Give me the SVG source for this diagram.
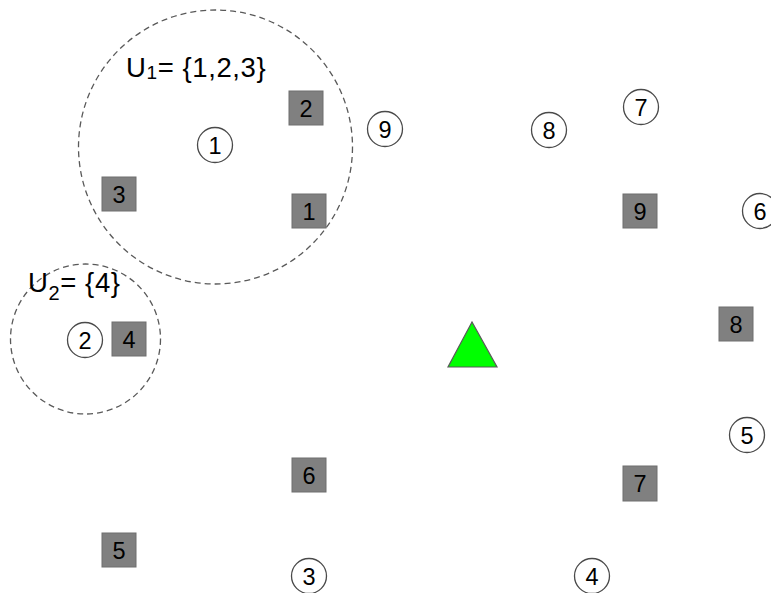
<svg xmlns="http://www.w3.org/2000/svg" width="771" height="593" viewBox="0 0 771 593">
<style>
.bg{fill:#ffffff}
.grp{fill:none;stroke:#595959;stroke-width:1.3;stroke-dasharray:6 4}
.sq{fill:#808080;stroke:#6e6e6e;stroke-width:1}
.ci{fill:#ffffff;stroke:#4a4a4a;stroke-width:1.3}
.t{font-family:"Liberation Sans",Arial,sans-serif;font-size:23.5px;fill:#000;text-anchor:middle}
.lbl{font-family:"Liberation Sans",Arial,sans-serif;font-size:27.5px;fill:#000}
.tri{fill:#00ff00;stroke:#595959;stroke-width:1.2}
</style>
<rect class="bg" x="0" y="0" width="771" height="593"/>
<g id="groups">
<circle class="grp" cx="215.5" cy="147" r="137"/>
<circle class="grp" cx="85.5" cy="339" r="75"/>
</g>
<g id="labels">
<text class="lbl" x="126" y="77" letter-spacing="0.6">U<tspan font-size="19" dy="2">1</tspan><tspan dy="-2">= {1,2,3}</tspan></text>
<text class="lbl" x="28" y="292" letter-spacing="0.6">U<tspan font-size="20" dy="8">2</tspan><tspan dy="-8">= {4}</tspan></text>
</g>
<g id="connectors"></g>
<g id="bs"><polygon class="tri" points="472,322 448,367 497,367"/></g>
<g id="sq1"><rect class="sq" x="292" y="194" width="34" height="34"/><text class="t" x="309" y="219.5">1</text></g>
<g id="sq2"><rect class="sq" x="289" y="91" width="34" height="34"/><text class="t" x="306" y="116.5">2</text></g>
<g id="sq3"><rect class="sq" x="102" y="177" width="34" height="34"/><text class="t" x="119" y="202.5">3</text></g>
<g id="sq4"><rect class="sq" x="112" y="322" width="34" height="34"/><text class="t" x="129" y="347.5">4</text></g>
<g id="sq5"><rect class="sq" x="102" y="533" width="34" height="34"/><text class="t" x="119" y="558.5">5</text></g>
<g id="sq6"><rect class="sq" x="292" y="458" width="34" height="34"/><text class="t" x="309" y="483.5">6</text></g>
<g id="sq7"><rect class="sq" x="623" y="466" width="34" height="35"/><text class="t" x="640" y="491.5">7</text></g>
<g id="sq8"><rect class="sq" x="719" y="307" width="34" height="34"/><text class="t" x="736" y="332.5">8</text></g>
<g id="sq9"><rect class="sq" x="623" y="194" width="34" height="34"/><text class="t" x="640" y="219.5">9</text></g>
<g id="c1"><circle class="ci" cx="215" cy="145" r="17.5"/><text class="t" x="215" y="153.5">1</text></g>
<g id="c2"><circle class="ci" cx="85" cy="340" r="17.5"/><text class="t" x="85" y="348.5">2</text></g>
<g id="c3"><circle class="ci" cx="309" cy="576" r="17.5"/><text class="t" x="309" y="584.5">3</text></g>
<g id="c4"><circle class="ci" cx="592" cy="576" r="17.5"/><text class="t" x="592" y="584.5">4</text></g>
<g id="c5"><circle class="ci" cx="747" cy="435" r="17.5"/><text class="t" x="747" y="443.5">5</text></g>
<g id="c6"><circle class="ci" cx="760" cy="211" r="17.5"/><text class="t" x="760" y="219.5">6</text></g>
<g id="c7"><circle class="ci" cx="641" cy="107" r="17.5"/><text class="t" x="641" y="115.5">7</text></g>
<g id="c8"><circle class="ci" cx="549" cy="130" r="17.5"/><text class="t" x="549" y="138.5">8</text></g>
<g id="c9"><circle class="ci" cx="385" cy="129" r="17.5"/><text class="t" x="385" y="137.5">9</text></g>
</svg>
